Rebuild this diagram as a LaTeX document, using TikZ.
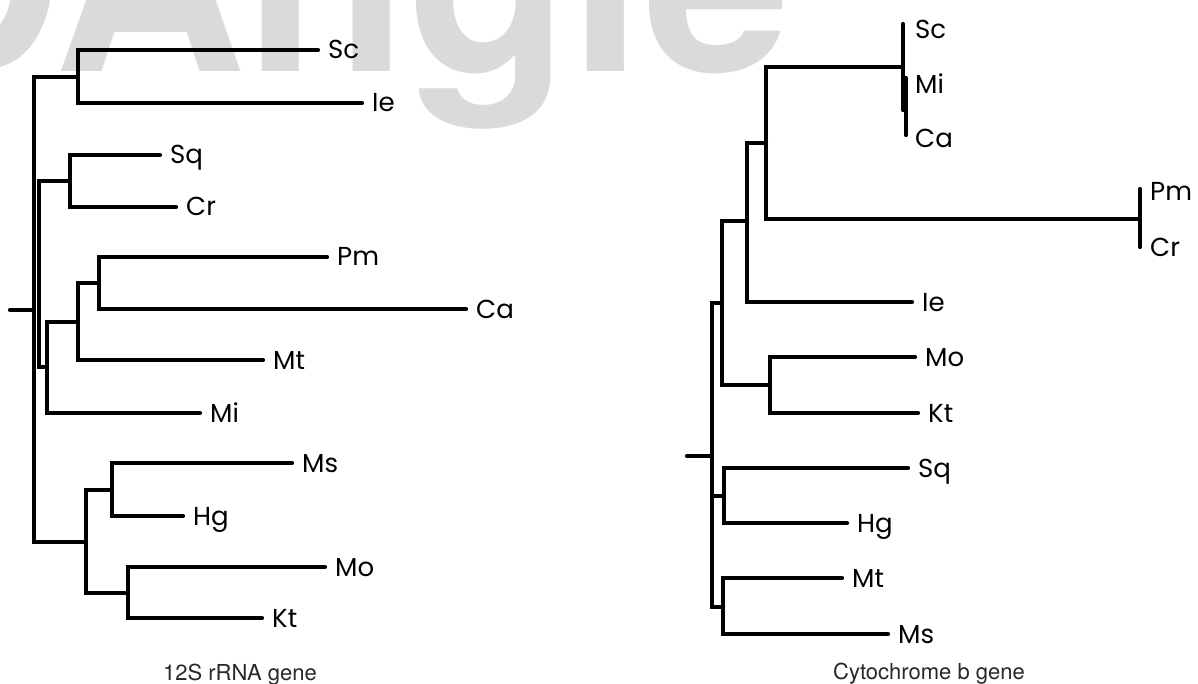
\documentclass[tikz,border=0pt]{standalone}
\usepackage{fontspec}
\setmainfont{TeX Gyre Heros}
\newfontfamily\labfont{Poppins}
\newfontfamily\wmfont{TeX Gyre Heros}
\definecolor{wmgray}{RGB}{218,218,218}
\definecolor{capgray}{RGB}{40,40,40}
\tikzset{
  br/.style={line width=4.2pt, line cap=round, line join=miter},
  lab/.style={font=\labfont\fontsize{26}{26}\selectfont, anchor=base west, inner sep=0pt, xshift=10pt, yshift=-9pt},
  captext/.style={font=\fontsize{22}{22}\selectfont, text=capgray, anchor=base, inner sep=0pt},
  wmtext/.style={font=\wmfont\bfseries\fontsize{265}{265}\selectfont, text=wmgray, anchor=base west, inner sep=0pt}
}
\begin{document}
\begin{tikzpicture}[x=1pt,y=-1pt]
\useasboundingbox (0,0) rectangle (1198,684);
\fill[white] (0,0) rectangle (1198,684);
\begin{scope}
\clip (0,0) rectangle (1198,684);
\node[wmtext] (watermark) at (-128,72) {DAngle};
\end{scope}

% ---------------- left tree: 12S rRNA ----------------
\coordinate (Ls) at (10,310);
\coordinate (L0) at (34,310);
\coordinate (A) at (78,77);
\coordinate (Bx) at (39,274);
\coordinate (C) at (70,181);
\coordinate (E) at (47,367);
\coordinate (F) at (78,322);
\coordinate (G) at (99,283);
\coordinate (D) at (86,542);
\coordinate (H) at (112,490);
\coordinate (I) at (128,593);

\coordinate (tSc) at (318,50);
\coordinate (tIe) at (362,103);
\coordinate (tSq) at (160,155);
\coordinate (tCr) at (176,207);
\coordinate (tPm) at (327,257);
\coordinate (tCa) at (466,309);
\coordinate (tMt) at (263,360);
\coordinate (tMi) at (200,413);
\coordinate (tMs) at (292,463);
\coordinate (tHg) at (183,516);
\coordinate (tMo) at (325,567);
\coordinate (tKt) at (262,618);

\draw[br] (Ls) -- (L0);
\draw[br] (A) -| (L0) |- (D);
\draw[br] (C) -| (Bx) |- (E);
\draw[br] (tSc) -| (A) |- (tIe);
\draw[br] (tSq) -| (C) |- (tCr);
\draw[br] (F) -| (E) |- (tMi);
\draw[br] (G) -| (F) |- (tMt);
\draw[br] (tPm) -| (G) |- (tCa);
\draw[br] (H) -| (D) |- (I);
\draw[br] (tMs) -| (H) |- (tHg);
\draw[br] (tMo) -| (I) |- (tKt);

\node[lab] (Sc) at (tSc) {Sc};
\node[lab] (Ie) at (tIe) {Ie};
\node[lab] (Sq) at (tSq) {Sq};
\node[lab] (Cr) at (tCr) {Cr};
\node[lab] (Pm) at (tPm) {Pm};
\node[lab] (Ca) at (tCa) {Ca};
\node[lab] (Mt) at (tMt) {Mt};
\node[lab] (Mi) at (tMi) {Mi};
\node[lab] (Ms) at (tMs) {Ms};
\node[lab] (Hg) at (tHg) {Hg};
\node[lab] (Mo) at (tMo) {Mo};
\node[lab] (Kt) at (tKt) {Kt};

\node[captext] (cap1) at (240,680) {12S rRNA gene};

% ---------------- right tree: cytochrome b ----------------
\coordinate (Rs) at (687,456);
\coordinate (R) at (712,456);
\coordinate (M) at (722,303);
\coordinate (O) at (724,496);
\coordinate (P) at (723,607);
\coordinate (L) at (747,221);
\coordinate (N) at (770,385);
\coordinate (K) at (766,143);
\coordinate (J) at (903,67);
\coordinate (Jt) at (903,24);
\coordinate (Jb) at (903,110);
\coordinate (Jt2) at (906,78);
\coordinate (Jb2) at (906,135);
\coordinate (tPC) at (1140,219);
\coordinate (PCt) at (1140,189);
\coordinate (PCb) at (1140,247);

\coordinate (rIe) at (912,302);
\coordinate (rMo) at (915,357);
\coordinate (rKt) at (918,413);
\coordinate (rSq) at (908,468);
\coordinate (rHg) at (847,523);
\coordinate (rMt) at (842,578);
\coordinate (rMs) at (888,634);

\draw[br] (Rs) -- (R);
\draw[br] (M) -| (R) |- (P);
\draw[br] (R) |- (O);
\draw[br] (L) -| (M) |- (N);
\draw[br] (K) -| (L) |- (rIe);
\draw[br] (J) -| (K) |- (tPC);
\draw[br] (Jt) -- (Jb);
\draw[br] (Jt2) -- (Jb2);
\draw[br] (PCt) -- (PCb);
\draw[br] (rMo) -| (N) |- (rKt);
\draw[br] (rSq) -| (O) |- (rHg);
\draw[br] (rMt) -| (P) |- (rMs);

\node[lab, xshift=2pt] (rScL) at (903,30) {Sc};
\node[lab, xshift=2pt] (rMiL) at (903,85) {Mi};
\node[lab, xshift=2pt] (rCaL) at (903,139) {Ca};
\node[lab] (rPmL) at (1140,192) {Pm};
\node[lab] (rCrL) at (1140,248) {Cr};
\node[lab] (rIeL) at (rIe) {Ie};
\node[lab] (rMoL) at (rMo) {Mo};
\node[lab] (rKtL) at (rKt) {Kt};
\node[lab] (rSqL) at (rSq) {Sq};
\node[lab] (rHgL) at (rHg) {Hg};
\node[lab] (rMtL) at (rMt) {Mt};
\node[lab] (rMsL) at (rMs) {Ms};

\node[captext] (cap2) at (929,679) {Cytochrome b gene};
\end{tikzpicture}
\end{document}
